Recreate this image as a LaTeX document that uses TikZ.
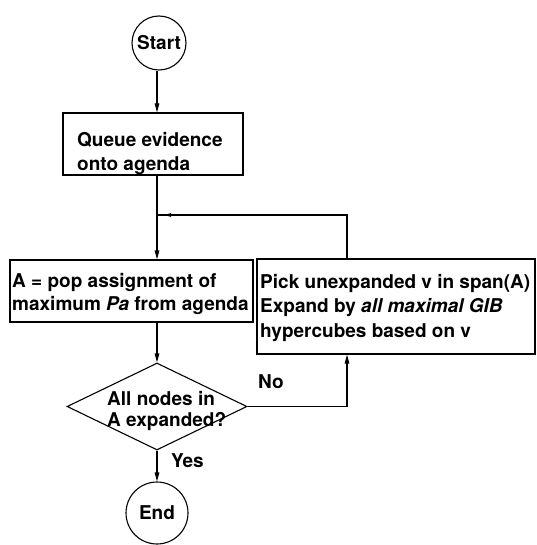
\documentclass[tikz,border=0pt]{standalone}
\usepackage{fontspec}
\setmainfont{TeX Gyre Heros}
\usetikzlibrary{shapes.geometric,arrows.meta}
\tikzset{
  x=1pt, y=-1pt,
  ln/.style={line width=1.1pt, black},
  arr/.style={ln, -{Triangle[length=9pt,width=4.5pt]}},
  boxnode/.style={draw, ln, rectangle, inner sep=0pt},
  circnode/.style={draw, ln, circle, inner sep=0pt},
  txt/.style={inner sep=0pt, align=left, font=\fontsize{19}{23.5}\selectfont\bfseries},
}
\begin{document}
\begin{tikzpicture}
\useasboundingbox (0,0) rectangle (536,545);
% column
\coordinate (col) at (157,0);
% nodes
\node[circnode, minimum size=54pt, txt, align=center] (start) at (159,43) {Start};
\node[boxnode, minimum width=180pt, minimum height=62pt] (queue) at (153,144) {};
\node[txt, anchor=base west] (queuetxt) at (77,170.5) {Queue evidence\\onto agenda};
\node[boxnode, minimum width=243pt, minimum height=62pt] (pop) at (131.5,291) {};
\node[txt, anchor=base west] (poptxt) at (12,310.5) {A = pop assignment of\\maximum \textit{Pa} from agenda};
\node[boxnode, minimum width=278pt, minimum height=95pt] (pick) at (396,306.5) {};
\node[txt, anchor=base west, font=\fontsize{19}{24.5}\selectfont\bfseries] (picktxt) at (260,337) {Pick unexpanded v in span(A)\\Expand by \textit{all maximal GIB}\\hypercubes based on v};
\node[draw, ln, diamond, minimum width=180pt, minimum height=87pt, inner sep=0pt] (dia) at (157,406.5) {};
\node[txt, anchor=base west, font=\fontsize{19}{21.5}\selectfont\bfseries] (diatxt) at (107,426.5) {All nodes in\\A expanded?};
\node[circnode, minimum size=62pt, txt, align=center] (end) at (157,513) {End};
\node[txt, anchor=base west] (no) at (258,388) {No};
\node[txt, anchor=base west] (yes) at (171,467) {Yes};
% connectors
\coordinate (jn) at (157,215);
\coordinate (loopc) at (347,215);
\coordinate (tipc) at (165,215);
\draw[arr] (start.south -| col) -- (queue.north -| col);
\draw[ln] (queue.south -| col) -- (jn);
\draw[arr] (jn) -- (pop.north -| col);
\draw[ln] (pick.north -| loopc) -- (loopc) -- (jn);
\draw[ln, -{Triangle[length=6pt,width=3.5pt]}] (loopc) -- (tipc);
\draw[arr] (pop.south -| col) -- (dia.north);
\draw[arr] (dia.south) -- (end.north);
\draw[arr] (dia.east) -| (pick.south -| loopc);
\end{tikzpicture}
\end{document}
